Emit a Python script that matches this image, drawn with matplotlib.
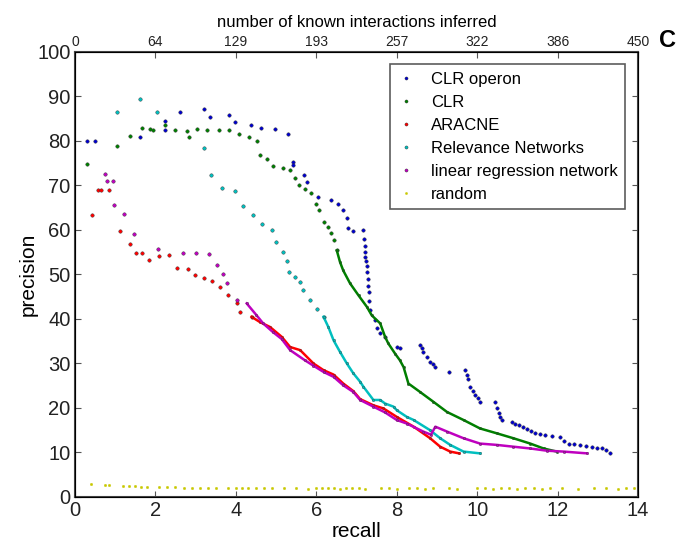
import numpy as np
import matplotlib
matplotlib.use("Agg")
import matplotlib.pyplot as plt

plt.rcParams['font.family'] = ['Liberation Sans', 'DejaVu Sans']

# CLR operon (blue)
op_r = [0.3, 0.5, 1.62, 2.24, 2.24, 2.6, 3.21, 3.37, 3.83, 3.98, 4.37, 4.63, 4.98, 5.29, 5.41, 5.41,
        5.70, 5.78, 6.04, 6.37, 6.53, 6.66, 6.76, 6.78, 6.92, 7.17, 7.19, 7.20, 7.21, 7.22, 7.24, 7.26,
        7.27, 7.28, 7.29, 7.30, 7.31, 7.34, 7.46, 7.50, 7.59, 7.71, 8.0, 8.08,
        8.58, 8.62, 8.66, 8.75, 8.83, 8.90, 8.96, 9.29, 9.70, 9.74, 9.78, 9.83, 9.89, 9.95, 10.01, 10.07,
        10.45, 10.49, 10.53, 10.57, 10.61, 10.86, 10.95, 11.05, 11.15, 11.25, 11.35, 11.44, 11.55, 11.69,
        11.85, 12.06, 12.17, 12.27, 12.40, 12.56, 12.70, 12.85, 12.98, 13.10, 13.20, 13.31]
op_p = [80, 80, 81.0, 84.6, 82.4, 86.5, 87.2, 85.5, 85.9, 84.2, 83.6, 83.0, 82.7, 81.5, 75.2, 74.5,
        72.4, 70.8, 67.3, 66.8, 65.8, 64.6, 62.7, 60.4, 59.7, 59.9, 58.0, 56.5, 55.0, 54.0, 53.0, 52.0,
        50.5, 49.0, 47.5, 46.0, 44.0, 42.0, 39.7, 38.0, 36.8, 35.9, 33.7, 33.4,
        34.1, 33.4, 32.6, 31.5, 30.4, 29.8, 29.2, 28.1, 28.5, 27.5, 26.6, 24.8, 23.8, 22.9, 22.2, 21.4,
        21.4, 20.0, 18.8, 18.0, 17.3, 16.9, 16.5, 16.2, 15.8, 15.3, 14.8, 14.3, 14.1, 13.9,
        13.7, 13.5, 12.6, 12.0, 11.8, 11.7, 11.5, 11.3, 11.1, 10.9, 10.5, 9.8]

# CLR (green)
clr_r = [0.29, 1.05, 1.37, 1.68, 1.87, 1.95, 2.24, 2.49, 2.78, 2.84, 3.04, 3.29, 3.58, 3.84, 4.08,
         4.34, 4.52, 4.60, 4.78, 4.93, 5.17, 5.35, 5.47, 5.58, 5.72, 5.86, 5.99, 6.08, 6.18, 6.29,
         6.37, 6.45, 6.51]
clr_p = [74.8, 78.8, 81.2, 82.9, 82.7, 82.4, 83.5, 82.4, 82.2, 80.9, 82.7, 82.5, 82.5, 82.4, 81.6,
         81.0, 80.0, 76.8, 76.0, 74.3, 74.0, 73.4, 71.7, 70.0, 69.1, 68.2, 65.9, 64.4, 61.8, 60.7,
         59.3, 57.7, 55.4]
clr_tail_r = [6.51, 6.59, 6.67, 6.84, 7.05, 7.26, 7.38, 7.59, 7.71, 7.79, 7.96, 8.08, 8.17, 8.29,
              8.58, 8.91, 9.25, 9.66, 10.07, 10.49, 10.90, 11.32, 11.65, 11.98]
clr_tail_p = [55.4, 52.8, 50.9, 48.0, 45.3, 42.7, 40.8, 39.0, 36.0, 34.5, 32.2, 30.7, 29.2, 25.5,
              23.6, 21.4, 19.1, 17.3, 15.4, 14.3, 13.2, 12.0, 10.9, 10.2]

# ARACNE (red)
ara_r = [0.43, 0.58, 0.65, 0.85, 1.12, 1.37, 1.52, 1.68, 1.85, 2.09, 2.35, 2.53, 2.80, 2.99, 3.21,
         3.42, 3.61, 3.81, 4.02, 4.10, 4.39]
ara_p = [63.4, 68.9, 68.9, 68.9, 59.8, 56.8, 54.8, 54.8, 53.3, 54.1, 54.3, 51.5, 51.3, 49.8, 49.3,
         48.5, 47.1, 45.3, 43.5, 41.6, 40.5]
ara_tail_r = [4.39, 4.60, 4.85, 5.14, 5.35, 5.60, 5.93, 6.18, 6.43, 6.67, 6.92, 7.09, 7.42, 7.67,
              8.0, 8.42, 8.83, 9.08, 9.33, 9.55]
ara_tail_p = [40.5, 39.3, 38.2, 36.0, 33.7, 33.0, 30.0, 28.5, 27.5, 25.5, 23.8, 22.0, 20.6, 19.9,
              18.0, 15.8, 13.2, 11.3, 10.2, 9.8]

# Relevance Networks (cyan)
rel_r = [1.04, 1.62, 2.03, 3.21, 3.38, 3.65, 3.98, 4.17, 4.42, 4.64, 4.89, 4.99, 5.17, 5.28, 5.31,
         5.47, 5.60, 5.68, 5.85, 6.01, 6.18]
rel_p = [86.6, 89.5, 86.5, 78.5, 72.3, 69.4, 68.7, 65.3, 63.4, 61.4, 60.1, 57.3, 55.0, 53.0, 50.6,
         49.4, 48.3, 46.5, 44.2, 42.3, 40.5]
rel_tail_r = [6.18, 6.30, 6.43, 6.59, 6.76, 6.92, 7.09, 7.17, 7.42, 7.59, 7.71, 7.92, 8.0, 8.25,
              8.42, 8.83, 9.08, 9.33, 9.66, 10.07]
rel_tail_p = [40.5, 38.2, 35.2, 32.6, 30.0, 27.8, 25.9, 24.8, 21.8, 21.8, 21.0, 20.3, 19.5, 18.0,
              17.3, 15.0, 13.2, 11.7, 10.2, 9.8]

# linear regression network (magenta)
lin_r = [0.75, 0.80, 0.94, 0.97, 1.22, 1.47, 2.06, 2.69, 3.01, 3.33, 3.52, 3.69, 3.77, 4.02]
lin_p = [72.6, 71.1, 71.1, 65.7, 63.7, 59.2, 55.7, 54.8, 54.8, 54.5, 52.2, 50.2, 48.0, 44.2]
lin_tail_r = [4.27, 4.50, 4.68, 4.93, 5.14, 5.35, 5.72, 5.93, 6.18, 6.43, 6.67, 6.92, 7.09, 7.42,
              7.71, 8.0, 8.25, 8.66, 8.85, 8.96, 9.25, 9.66, 10.07, 10.49, 10.9, 11.32, 11.73,
              12.15, 12.73]
lin_tail_p = [43.5, 41.0, 39.0, 37.0, 35.5, 33.0, 30.7, 29.5, 28.1, 27.0, 25.1, 23.6, 21.8, 20.3,
              19.0, 17.3, 16.5, 14.7, 14.0, 15.8, 14.7, 13.2, 12.0, 11.7, 11.3, 10.9, 10.4,
              10.2, 9.8]

# random (yellow)
rand_r = [0.4, 0.75, 0.85, 1.2, 1.35, 1.5, 1.65, 1.8, 2.1, 2.3, 2.5, 2.7, 2.9, 3.1, 3.3, 3.5, 3.8,
          4.0, 4.15, 4.3, 4.5, 4.7, 4.9, 5.2, 5.5, 5.8, 6.0, 6.15, 6.3, 6.45, 6.6, 6.75, 6.9, 7.05,
          7.2, 7.6, 7.8, 8.0, 8.3, 8.5, 8.7, 8.9, 9.3, 9.5, 10.0, 10.2, 10.4, 10.6, 10.8, 11.0,
          11.2, 11.4, 11.6, 11.8, 12.1, 12.5, 12.9, 13.2, 13.5, 13.7, 13.9]
rand_p = [2.9, 2.7, 2.6, 2.5, 2.4, 2.4, 2.3, 2.3, 2.2, 2.2, 2.2, 2.1, 2.1, 2.1, 2.0, 2.1, 2.0,
          2.0, 2.1, 2.0, 2.0, 2.0, 2.1, 2.0, 2.0, 1.9, 2.0, 2.0, 2.0, 2.0, 1.9, 2.0, 2.0, 2.0,
          1.9, 2.0, 2.0, 1.9, 2.0, 2.0, 1.9, 2.0, 2.0, 1.9, 2.0, 2.0, 1.9, 2.0, 2.0, 1.9,
          2.0, 2.0, 1.9, 2.0, 2.0, 1.9, 2.0, 2.0, 1.9, 2.0, 2.0]

labels = ['CLR operon', 'CLR', 'ARACNE', 'Relevance Networks', 'linear regression network', 'random']
colors = ['#0000cc', '#007f00', '#ff0000', '#00bfbf', '#bf00bf', '#c8c800']

top_ticks = ['0', '64', '129', '193', '257', '322', '386', '450']

fig = plt.figure(figsize=(6.81, 5.53), dpi=100)
ax = fig.add_axes([0.110, 0.1013, 0.827, 0.8047])

series = [(op_r, op_p, None, None), (clr_r, clr_p, clr_tail_r, clr_tail_p),
          (ara_r, ara_p, ara_tail_r, ara_tail_p), (rel_r, rel_p, rel_tail_r, rel_tail_p),
          (lin_r, lin_p, lin_tail_r, lin_tail_p), (rand_r, rand_p, None, None)]

for i, ((r, p, tr, tp), c, lab) in enumerate(zip(series, colors, labels)):
    if lab == 'random':
        ax.plot(r, p, ls='none', marker='.', ms=3.5, mfc=c, mec=c, mew=0.3, label=lab)
    else:
        ax.plot(r, p, ls='none', marker='.', ms=5, mfc=c, mec='#333333', mew=0.3, label=lab)
    if tr is not None:
        ax.plot(tr, tp, '-', color=c, lw=1.8, marker='.', ms=3.5, mec='#333333', mew=0.25)

ax.set_xlim(0, 14)
ax.set_ylim(0, 100)
ax.set_xticks(np.arange(0, 15, 2))
ax.set_yticks(np.arange(0, 101, 10))
ax.tick_params(direction='in', labelsize=14.5, length=4, top=False, right=True, colors='#555555',
               labelcolor='#222222', pad=3)
for s in ax.spines.values():
    s.set_linewidth(1.5)
    s.set_color('#444444')
ax.set_xlabel('recall', fontsize=15, labelpad=1)
ax.set_ylabel('precision', fontsize=15, labelpad=0)

ax2 = ax.twiny()
ax2.set_xlim(0, 14)
ax2.set_xticks(np.arange(0, 15, 2))
ax2.set_xticklabels(top_ticks)
ax2.tick_params(direction='in', labelsize=10, length=4, pad=2, colors='#555555', labelcolor='#222222')
ax2.set_xlabel('number of known interactions inferred', fontsize=12, labelpad=6)

leg = ax.legend(loc='upper right', bbox_to_anchor=(0.977, 0.972), fontsize=12, frameon=True,
                fancybox=False, edgecolor='#333333', markerscale=0.9, handlelength=1.0,
                borderpad=0.45, labelspacing=0.48, handletextpad=1.0, borderaxespad=0)
leg.get_frame().set_linewidth(1.2)

fig.text(0.968, 0.927, 'C', fontsize=17, fontweight='bold', ha='left', va='center')

fig.savefig('out.png', dpi=100)
